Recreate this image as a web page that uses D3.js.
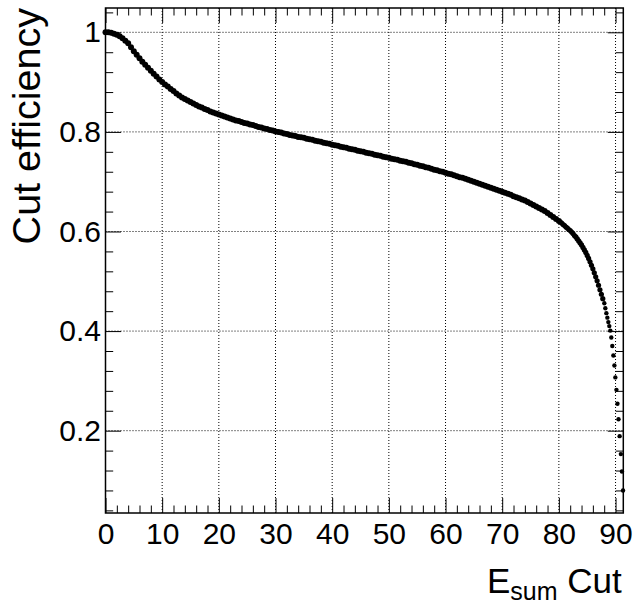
<!DOCTYPE html>
<html>
<head>
<meta charset="utf-8">
<script src="https://cdn.jsdelivr.net/npm/d3@7"></script>
<style>
  body { margin: 0; background: #fff; }
  text { font-family: 'Liberation Sans', Arial, Helvetica, sans-serif; fill: #000; }
</style>
</head>
<body>
<div id="chart"></div>
<script>
// Axis ticks
const xTicks = [0, 10, 20, 30, 40, 50, 60, 70, 80, 90];
const yTicks = [0.2, 0.4, 0.6, 0.8, 1];

// Efficiency vs cut, smooth part (every 0.5 from 0 to 80)
const smoothEff = [
  1.000, 1.000, 0.999, 0.997, 0.995, 0.992, 0.988, 0.983, 0.978, 0.970,
  0.962, 0.955, 0.948, 0.941, 0.935, 0.929, 0.923, 0.917, 0.911, 0.905,
  0.900, 0.895, 0.891, 0.886, 0.882, 0.877, 0.873, 0.869, 0.866, 0.863,
  0.860, 0.857, 0.854, 0.851, 0.849, 0.846, 0.844, 0.841, 0.839, 0.837,
  0.835, 0.833, 0.831, 0.829, 0.827, 0.825, 0.823, 0.822, 0.820, 0.818,
  0.817, 0.815, 0.814, 0.812, 0.810, 0.809, 0.807, 0.806, 0.804, 0.803,
  0.801, 0.800, 0.799, 0.797, 0.796, 0.794, 0.793, 0.792, 0.790, 0.789,
  0.788, 0.786, 0.785, 0.784, 0.782, 0.781, 0.780, 0.778, 0.777, 0.776,
  0.774, 0.773, 0.772, 0.770, 0.769, 0.768, 0.766, 0.765, 0.764, 0.762,
  0.761, 0.760, 0.758, 0.757, 0.756, 0.754, 0.753, 0.752, 0.750, 0.749,
  0.748, 0.746, 0.745, 0.744, 0.742, 0.741, 0.740, 0.738, 0.737, 0.735,
  0.734, 0.732, 0.731, 0.729, 0.728, 0.726, 0.724, 0.723, 0.721, 0.720,
  0.718, 0.716, 0.715, 0.713, 0.711, 0.709, 0.708, 0.706, 0.704, 0.702,
  0.700, 0.698, 0.696, 0.694, 0.692, 0.690, 0.688, 0.686, 0.684, 0.682,
  0.680, 0.678, 0.676, 0.674, 0.671, 0.669, 0.667, 0.664, 0.662, 0.659,
  0.656, 0.653, 0.650, 0.647, 0.644, 0.641, 0.637, 0.633, 0.629, 0.625,
  0.621
];

// Steep part (every 0.25 from 80.25 to 87.75)
const steepEff = [
  0.619, 0.617, 0.614, 0.612, 0.609, 0.607, 0.604, 0.602, 0.599, 0.596,
  0.592, 0.589, 0.585, 0.581, 0.577, 0.573, 0.568, 0.563, 0.558, 0.552,
  0.546, 0.539, 0.532, 0.525, 0.517, 0.509, 0.501, 0.492, 0.483, 0.474,
  0.465
];

// Separated points at the end
const tailCut = [88.02, 88.2, 88.38, 88.56, 88.73, 88.9, 89.08, 89.25, 89.43, 89.62,
  89.8, 89.97, 90.16, 90.34, 90.52, 90.72, 90.94, 91.13, 91.32];
const tailEff = [0.456, 0.446, 0.436, 0.427, 0.418, 0.410, 0.401, 0.387, 0.370, 0.351,
  0.331, 0.307, 0.282, 0.254, 0.223, 0.189, 0.153, 0.118, 0.080];

EffChart = function(_parentElement) {
  this.parentElement = _parentElement;
  this.initVis();
};

EffChart.prototype.initVis = function() {
  let vis = this;

  vis.margin = { left: 105.5, right: 9.7, top: 8, bottom: 96 };
  vis.width = 633 - vis.margin.left - vis.margin.right;
  vis.height = 609 - vis.margin.top - vis.margin.bottom;

  vis.svg = d3
    .select(vis.parentElement)
    .append('svg')
    .attr('width', 633)
    .attr('height', 609);
  vis.g = vis.svg
    .append('g')
    .attr('transform', 'translate(' + vis.margin.left + ', ' + vis.margin.top + ')');

  vis.x = d3.scaleLinear().domain([0, 91.37]).range([0, vis.width]);
  vis.y = d3.scaleLinear().domain([0.0347, 1.0488]).range([vis.height, 0]);

  vis.wrangleData();
};

EffChart.prototype.wrangleData = function() {
  let vis = this;

  const smoothCut = d3.range(0, 80.25, 0.5);
  const steepCut = d3.range(80.25, 87.8, 0.25);
  vis.data = []
    .concat(smoothCut.map((c, i) => ({ cut: c, eff: smoothEff[i], r: 3 })))
    .concat(steepCut.map((c, i) => ({ cut: c, eff: steepEff[i], r: 2.6 })))
    .concat(tailCut.map((c, i) => ({ cut: c, eff: tailEff[i], r: 2.2 })));

  vis.updateVis();
};

EffChart.prototype.updateVis = function() {
  let vis = this;

  // Grid (dotted)
  vis.g
    .append('g')
    .selectAll('line.xgrid')
    .data(xTicks.slice(1))
    .enter()
    .append('line')
    .attr('x1', d => vis.x(d))
    .attr('x2', d => vis.x(d))
    .attr('y1', 0)
    .attr('y2', vis.height)
    .attr('stroke', '#000')
    .attr('stroke-width', 1)
    .attr('stroke-dasharray', '1,2');
  vis.g
    .append('g')
    .selectAll('line.ygrid')
    .data(yTicks)
    .enter()
    .append('line')
    .attr('x1', 0)
    .attr('x2', vis.width)
    .attr('y1', d => vis.y(d))
    .attr('y2', d => vis.y(d))
    .attr('stroke', '#000')
    .attr('stroke-width', 1)
    .attr('stroke-dasharray', '1,2');

  // Points
  vis.g
    .append('g')
    .selectAll('circle')
    .data(vis.data)
    .enter()
    .append('circle')
    .attr('cx', d => vis.x(d.cut))
    .attr('cy', d => vis.y(d.eff))
    .attr('r', d => d.r)
    .attr('fill', '#000');

  // Axes, ticks pointing inward on all four sides
  const xMinor = d3.range(2, 91, 2).filter(d => d % 10 !== 0);
  const yMinor = d3.range(1, 27).map(d => +(d * 0.04).toFixed(2)).filter(d => d < 1.0488 && Math.round(d * 100) % 20 !== 0);

  const styleAxis = sel => {
    sel.select('.domain').remove();
    sel.selectAll('line').attr('stroke', '#000');
  };

  vis.g
    .append('g')
    .attr('transform', 'translate(0,' + vis.height + ')')
    .call(d3.axisBottom(vis.x).tickValues(xTicks).tickSize(-15).tickPadding(10).tickFormat(d3.format('d')))
    .call(styleAxis)
    .selectAll('text')
    .attr('font-size', '30px');
  vis.g
    .append('g')
    .attr('transform', 'translate(0,' + vis.height + ')')
    .call(d3.axisBottom(vis.x).tickValues(xMinor).tickSize(-7.5).tickFormat(''))
    .call(styleAxis);
  vis.g
    .append('g')
    .call(d3.axisTop(vis.x).tickValues(xTicks).tickSize(-15).tickFormat(''))
    .call(styleAxis);
  vis.g
    .append('g')
    .call(d3.axisTop(vis.x).tickValues(xMinor).tickSize(-7.5).tickFormat(''))
    .call(styleAxis);

  vis.g
    .append('g')
    .call(d3.axisLeft(vis.y).tickValues(yTicks).tickSize(-15.5).tickPadding(4.5).tickFormat(d3.format('~g')))
    .call(styleAxis)
    .selectAll('text')
    .attr('font-size', '30px');
  vis.g
    .append('g')
    .call(d3.axisLeft(vis.y).tickValues(yMinor).tickSize(-7.7).tickFormat(''))
    .call(styleAxis);
  vis.g
    .append('g')
    .attr('transform', 'translate(' + vis.width + ',0)')
    .call(d3.axisRight(vis.y).tickValues(yTicks).tickSize(-15.5).tickFormat(''))
    .call(styleAxis);
  vis.g
    .append('g')
    .attr('transform', 'translate(' + vis.width + ',0)')
    .call(d3.axisRight(vis.y).tickValues(yMinor).tickSize(-7.7).tickFormat(''))
    .call(styleAxis);

  // Frame
  vis.g
    .append('rect')
    .attr('width', vis.width)
    .attr('height', vis.height)
    .attr('fill', 'none')
    .attr('stroke', '#000')
    .attr('stroke-width', 1.5);

  // Axis titles
  const xTitle = vis.svg
    .append('text')
    .attr('x', 621.7)
    .attr('y', 593.3)
    .attr('text-anchor', 'end')
    .attr('font-size', '35px');
  xTitle.append('tspan').text('E');
  xTitle.append('tspan').attr('dy', 7).attr('font-size', '25px').text('sum');
  xTitle.append('tspan').attr('dy', -7).text(' Cut');

  vis.svg
    .append('text')
    .attr('transform', 'rotate(-90)')
    .attr('x', -8)
    .attr('y', 39.5)
    .attr('text-anchor', 'end')
    .attr('font-size', '39.5px')
    .text('Cut efficiency');
};

new EffChart('#chart');
</script>
</body>
</html>
